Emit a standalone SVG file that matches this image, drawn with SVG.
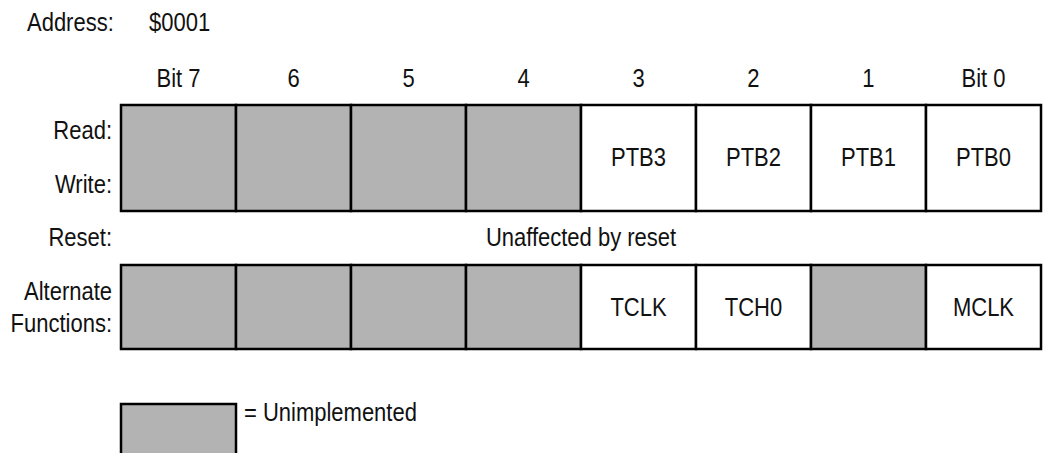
<svg xmlns="http://www.w3.org/2000/svg" width="1043" height="453" viewBox="0 0 1043 453">
<style>
text{font-family:"Liberation Sans Narrow","Liberation Sans",Arial,sans-serif;font-size:25px;fill:#111}
.c{text-anchor:middle}
.r{text-anchor:end}
.g{fill:#b3b3b3;stroke:#000;stroke-width:2.5}
.w{fill:#fff;stroke:#000;stroke-width:2.5}
</style>
<rect width="1043" height="453" fill="#fff"/>
<g id="labels">
<text transform="scale(0.88 1)" x="30.68" y="31">Address:</text>
<text transform="scale(0.88 1)" x="169.32" y="31">$0001</text>
<text transform="scale(0.88 1)" class="r" x="127.27" y="139">Read:</text>
<text transform="scale(0.88 1)" class="r" x="127.27" y="193">Write:</text>
<text transform="scale(0.88 1)" class="r" x="127.27" y="246">Reset:</text>
<text transform="scale(0.88 1)" class="c" x="660.23" y="246">Unaffected by reset</text>
<text transform="scale(0.88 1)" class="r" x="127.27" y="300">Alternate</text>
<text transform="scale(0.88 1)" class="r" x="127.27" y="332">Functions:</text>
</g>
<g id="bit-headers">
<text transform="scale(0.88 1)" class="c" x="202.84" y="87">Bit 7</text>
<text transform="scale(0.88 1)" class="c" x="333.52" y="87">6</text>
<text transform="scale(0.88 1)" class="c" x="464.20" y="87">5</text>
<text transform="scale(0.88 1)" class="c" x="594.89" y="87">4</text>
<text transform="scale(0.88 1)" class="c" x="725.57" y="87">3</text>
<text transform="scale(0.88 1)" class="c" x="856.25" y="87">2</text>
<text transform="scale(0.88 1)" class="c" x="986.93" y="87">1</text>
<text transform="scale(0.88 1)" class="c" x="1117.61" y="87">Bit 0</text>
</g>
<g id="rw-row">
<rect class="g" x="121" y="105" width="115" height="106"/>
<rect class="g" x="236" y="105" width="115" height="106"/>
<rect class="g" x="351" y="105" width="115" height="106"/>
<rect class="g" x="466" y="105" width="115" height="106"/>
<rect class="w" x="581" y="105" width="115" height="106"/>
<rect class="w" x="696" y="105" width="115" height="106"/>
<rect class="w" x="811" y="105" width="115" height="106"/>
<rect class="w" x="926" y="105" width="115" height="106"/>
<text transform="scale(0.88 1)" class="c" x="725.57" y="166">PTB3</text>
<text transform="scale(0.88 1)" class="c" x="856.25" y="166">PTB2</text>
<text transform="scale(0.88 1)" class="c" x="986.93" y="166">PTB1</text>
<text transform="scale(0.88 1)" class="c" x="1117.61" y="166">PTB0</text>
</g>
<g id="alt-row">
<rect class="g" x="121" y="265" width="115" height="84"/>
<rect class="g" x="236" y="265" width="115" height="84"/>
<rect class="g" x="351" y="265" width="115" height="84"/>
<rect class="g" x="466" y="265" width="115" height="84"/>
<rect class="w" x="581" y="265" width="115" height="84"/>
<rect class="w" x="696" y="265" width="115" height="84"/>
<rect class="g" x="811" y="265" width="115" height="84"/>
<rect class="w" x="926" y="265" width="115" height="84"/>
<text transform="scale(0.88 1)" class="c" x="725.57" y="316">TCLK</text>
<text transform="scale(0.88 1)" class="c" x="856.25" y="316">TCH0</text>
<text transform="scale(0.88 1)" class="c" x="1117.61" y="316">MCLK</text>
</g>
<g id="legend">
<rect class="g" x="121" y="404" width="115" height="60"/>
<text transform="scale(0.88 1)" x="277.27" y="421">= Unimplemented</text>
</g>
</svg>
